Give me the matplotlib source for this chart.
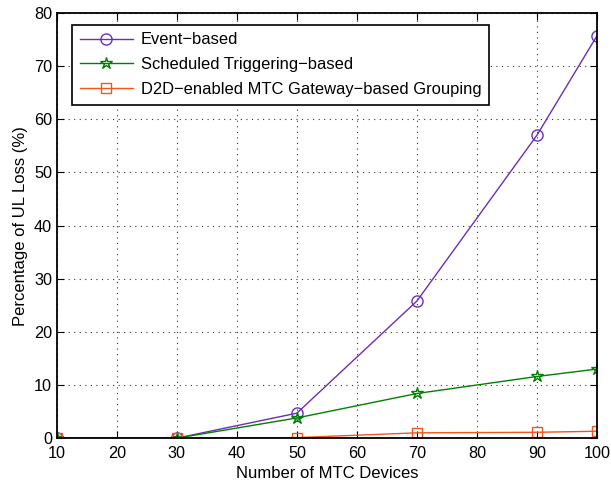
import matplotlib
matplotlib.use("Agg")
from matplotlib import pyplot as plt

devices = [10, 30, 50, 70, 90, 100]
event_based = [0, 0, 4.7, 25.8, 57.0, 75.7]
scheduled = [0, 0, 3.8, 8.4, 11.6, 13.0]
d2d_grouping = [0, 0, 0.1, 1.0, 1.1, 1.3]

plt.rcParams['font.family'] = ['Liberation Sans', 'DejaVu Sans']

fig = plt.figure(figsize=(6.11, 4.82), dpi=100)
ax = fig.add_axes([0.093, 0.091, 0.884, 0.882])

ax.plot(devices, event_based, color='#6a2fb5', lw=1, marker='o', ms=8,
        mfc='none', mec='#6a2fb5', label='Event\u2212based')
ax.plot(devices, scheduled, color='#008000', lw=1, marker='*', ms=9,
        mfc='none', mec='#008000', label='Scheduled Triggering\u2212based')
ax.plot(devices, d2d_grouping, color='#f05522', lw=1, marker='s', ms=7,
        mfc='none', mec='#f05522', label='D2D\u2212enabled MTC Gateway\u2212based Grouping')

ax.set_xlim(10, 100)
ax.set_ylim(0, 80)
ax.set_xticks(range(10, 101, 10))
ax.set_yticks(range(0, 81, 10))
ax.grid(True, linestyle=(0, (1, 4)), color='#333333', lw=0.8)
ax.tick_params(direction='in', top=True, right=True, labelsize=11.7, length=5)
ax.tick_params(axis='x', pad=6)
for s in ax.spines.values():
    s.set_linewidth(1.3)
ax.set_xlabel('Number of MTC Devices', fontsize=12, labelpad=3)
ax.set_ylabel('Percentage of UL Loss (%)', fontsize=12, labelpad=4)

leg = ax.legend(loc='upper left', bbox_to_anchor=(0.029, 0.972), borderaxespad=0,
                fontsize=11.9, fancybox=False, edgecolor='black', framealpha=1,
                handlelength=3.2, handletextpad=0.5, borderpad=0.45, labelspacing=0.6)
leg.get_frame().set_linewidth(1.2)

fig.savefig('out.png', dpi=100)
